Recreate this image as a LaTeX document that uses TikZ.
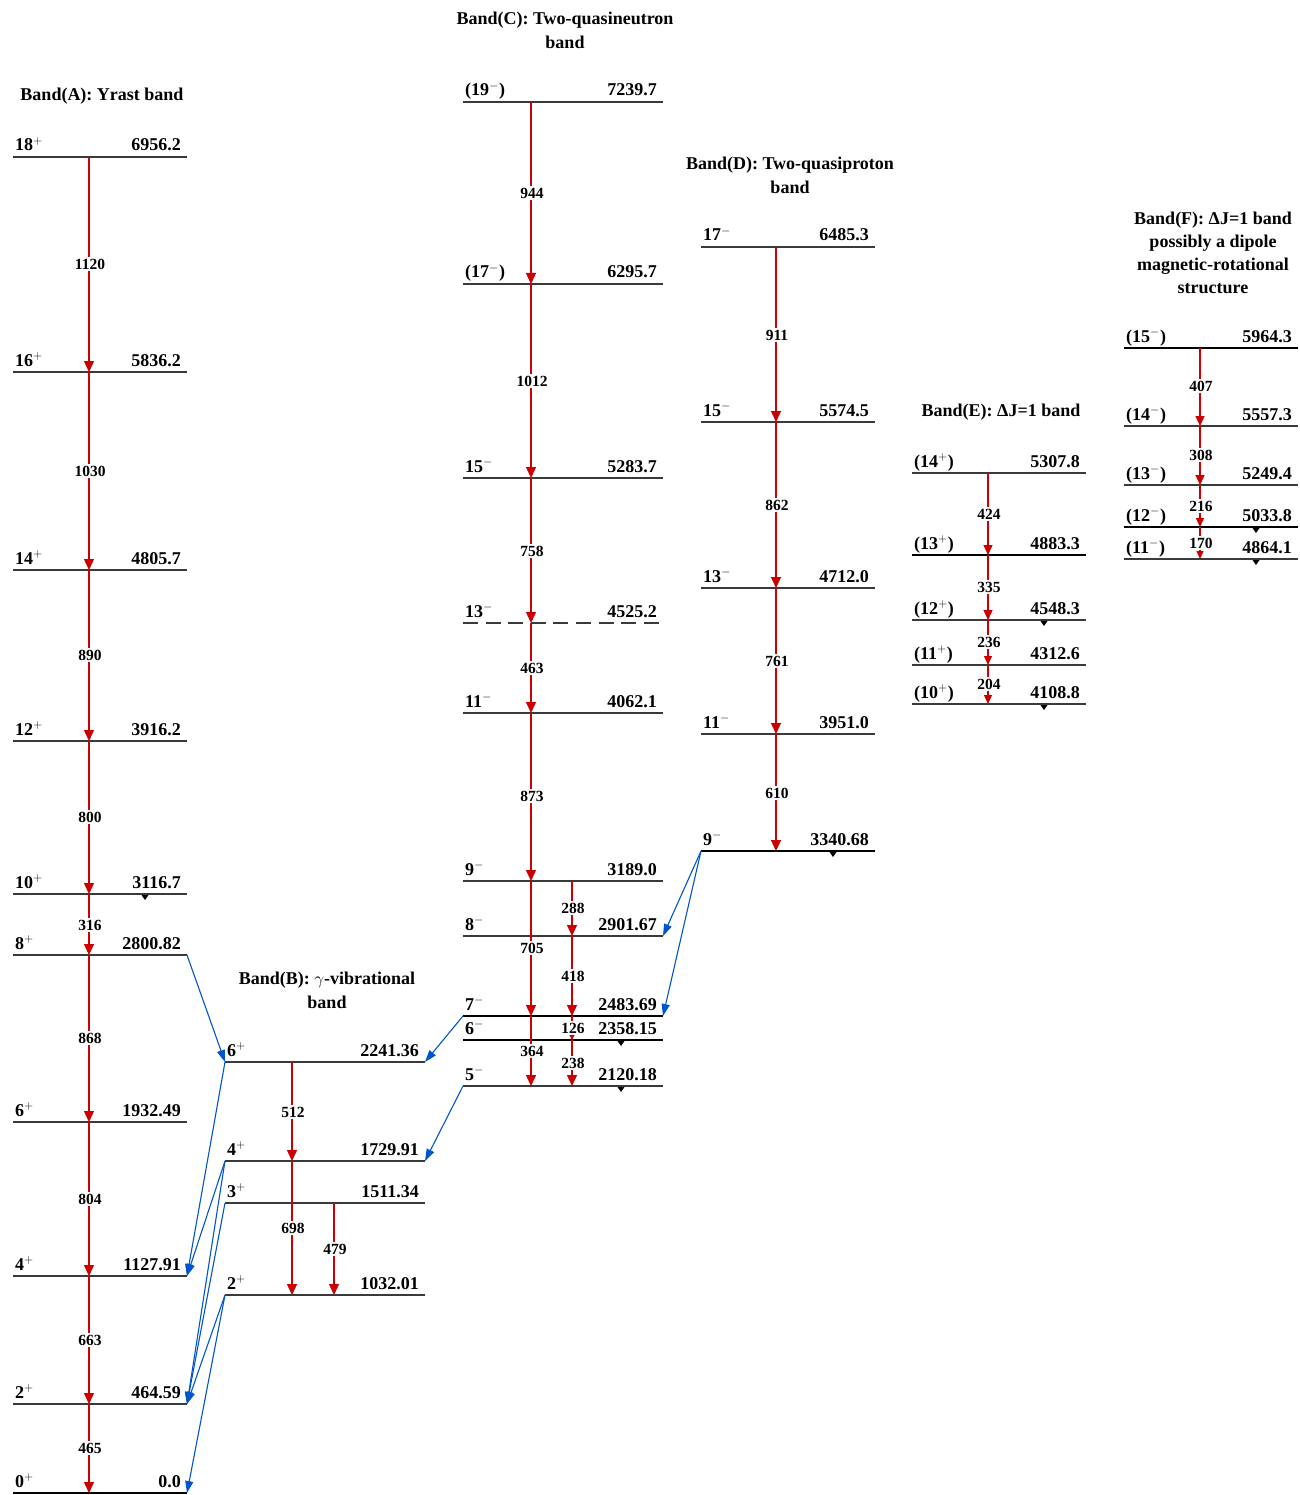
\documentclass[tikz,border=0pt]{standalone}
\usepackage{fontspec}
\setmainfont{Liberation Serif}
\usetikzlibrary{arrows.meta,calc}
\definecolor{tred}{HTML}{CC0000}
\definecolor{tblue}{HTML}{0055CC}
\definecolor{lvlgray}{HTML}{3A3A3A}
\newcommand{\mylvl}[7][]{%
 \coordinate (#2L) at (#3,#5);
 \coordinate (#2R) at (#4,#5);
 \draw[lvlline,#1] (#2L) -- (#2R);
 \node[spinlab] (#2s) at ([shift={(2pt,6pt)}]#2L) {#6};
 \node[enlab] (#2e) at ([shift={(-6pt,6pt)}]#2R) {#7};
}
\newcommand{\mytr}[6]{%
 \draw[trline,-{Triangle[#6]}] (#1,0 |- #2L) -- (#1,0 |- #3L);
 \node[tlab] (tl#5) at (#1+1,#4) {#5};
}
\newcommand{\mymk}[2]{\fill[black] (#1,0 |- #2L) ++(-3.5,1) -- ++(7,0) -- ++(-3.5,5) -- cycle;}
\begin{document}
\begin{tikzpicture}[x=1pt,y=-1pt,
 lvlline/.style={draw=lvlgray, line width=1.3pt},
 spinlab/.style={font=\fontsize{18}{20}\selectfont\bfseries, inner sep=0pt, anchor=base west},
 enlab/.style={font=\fontsize{18}{20}\selectfont\bfseries, inner sep=0pt, anchor=base east},
 trline/.style={draw=tred, line width=1.25pt},
 tlab/.style={font=\fontsize{15.5}{17}\selectfont\bfseries, fill=white, inner sep=1.5pt},
 xtr/.style={draw=tblue, line width=1.1pt, -{Triangle[length=12pt,width=8pt]}},
 title/.style={font=\fontsize{18}{24}\selectfont\bfseries, align=center},
]
\useasboundingbox (0,0) rectangle (1299,1495);
\fill[white] (0,0) rectangle (1299,1495);

% Titles
\node[title] (tA) at (102,96) {Band(A): Yrast band};
\node[title] (tB) at (327,990.5) {Band(B): $\gamma$-vibrational\\band};
\node[title] (tC) at (565,30) {Band(C): Two-quasineutron\\band};
\node[title] (tD) at (790,175) {Band(D): Two-quasiproton\\band};
\node[title] (tE) at (1001,412) {Band(E): ΔJ=1 band};
\node[title, font=\fontsize{18}{23}\selectfont\bfseries] (tF) at (1213,252.5) {Band(F): ΔJ=1 band\\possibly a dipole\\magnetic-rotational\\structure};

% Band A
\mylvl{A18}{13}{187}{157}{18$^{+}$}{6956.2}
\mylvl{A16}{13}{187}{372}{16$^{+}$}{5836.2}
\mylvl{A14}{13}{187}{570}{14$^{+}$}{4805.7}
\mylvl{A12}{13}{187}{741}{12$^{+}$}{3916.2}
\mylvl{A10}{13}{187}{894}{10$^{+}$}{3116.7}
\mylvl{A8}{13}{187}{955}{8$^{+}$}{2800.82}
\mylvl{A6}{13}{187}{1122}{6$^{+}$}{1932.49}
\mylvl{A4}{13}{187}{1276}{4$^{+}$}{1127.91}
\mylvl{A2}{13}{187}{1404}{2$^{+}$}{464.59}
\mylvl[draw=black,line width=2.4pt]{A0}{13}{187}{1493}{0$^{+}$}{0.0}

% Band B
\mylvl{B6}{225}{425}{1062}{6$^{+}$}{2241.36}
\mylvl{B4}{225}{425}{1161}{4$^{+}$}{1729.91}
\mylvl{B3}{225}{425}{1203}{3$^{+}$}{1511.34}
\mylvl{B2}{225}{425}{1295}{2$^{+}$}{1032.01}

% Band C
\mylvl{C19}{463}{663}{102}{(19$^{-}$)}{7239.7}
\mylvl{C17}{463}{663}{284}{(17$^{-}$)}{6295.7}
\mylvl{C15}{463}{663}{478}{15$^{-}$}{5283.7}
\mylvl[dash pattern=on 15pt off 7.6pt]{C13}{463}{663}{623}{13$^{-}$}{4525.2}
\mylvl{C11}{463}{663}{713}{11$^{-}$}{4062.1}
\mylvl{C9}{463}{663}{881}{9$^{-}$}{3189.0}
\mylvl{C8}{463}{663}{936}{8$^{-}$}{2901.67}
\mylvl[draw=black]{C7}{463}{663}{1016}{7$^{-}$}{2483.69}
\mylvl[draw=black]{C6}{463}{663}{1040}{6$^{-}$}{2358.15}
\mylvl{C5}{463}{663}{1086}{5$^{-}$}{2120.18}

% Band D
\mylvl{D17}{701}{875}{247}{17$^{-}$}{6485.3}
\mylvl{D15}{701}{875}{422}{15$^{-}$}{5574.5}
\mylvl{D13}{701}{875}{588}{13$^{-}$}{4712.0}
\mylvl{D11}{701}{875}{734}{11$^{-}$}{3951.0}
\mylvl[draw=black]{D9}{701}{875}{851}{9$^{-}$}{3340.68}

% Band E
\mylvl{E14}{912}{1086}{473}{(14$^{+}$)}{5307.8}
\mylvl[draw=black]{E13}{912}{1086}{555}{(13$^{+}$)}{4883.3}
\mylvl{E12}{912}{1086}{620}{(12$^{+}$)}{4548.3}
\mylvl{E11}{912}{1086}{665}{(11$^{+}$)}{4312.6}
\mylvl{E10}{912}{1086}{704}{(10$^{+}$)}{4108.8}

% Band F
\mylvl[draw=black]{F15}{1124}{1298}{348}{(15$^{-}$)}{5964.3}
\mylvl{F14}{1124}{1298}{426}{(14$^{-}$)}{5557.3}
\mylvl{F13}{1124}{1298}{485}{(13$^{-}$)}{5249.4}
\mylvl[draw=black]{F12}{1124}{1298}{527}{(12$^{-}$)}{5033.8}
\mylvl{F11}{1124}{1298}{559}{(11$^{-}$)}{4864.1}

% Markers
\mymk{145}{A10}
\mymk{621}{C6}
\mymk{621}{C5}
\mymk{833}{D9}
\mymk{1044}{E12}
\mymk{1044}{E10}
\mymk{1256}{F12}
\mymk{1256}{F11}

% Transitions band A
\mytr{89}{A18}{A16}{264}{1120}{length=11pt,width=10pt}
\mytr{89}{A16}{A14}{471}{1030}{length=11pt,width=10pt}
\mytr{89}{A14}{A12}{655}{890}{length=11pt,width=10pt}
\mytr{89}{A12}{A10}{817}{800}{length=11pt,width=10pt}
\mytr{89}{A10}{A8}{925}{316}{length=11pt,width=10pt}
\mytr{89}{A8}{A6}{1038}{868}{length=11pt,width=10pt}
\mytr{89}{A6}{A4}{1199}{804}{length=11pt,width=10pt}
\mytr{89}{A4}{A2}{1340}{663}{length=11pt,width=10pt}
\mytr{89}{A2}{A0}{1448}{465}{length=11pt,width=10pt}

% Transitions band B
\mytr{292}{B6}{B4}{1112}{512}{length=11pt,width=10pt}
\mytr{292}{B4}{B2}{1228}{698}{length=11pt,width=10pt}
\mytr{334}{B3}{B2}{1249}{479}{length=11pt,width=10pt}

% Transitions band C
\mytr{531}{C19}{C17}{193}{944}{length=11pt,width=10pt}
\mytr{531}{C17}{C15}{381}{1012}{length=11pt,width=10pt}
\mytr{531}{C15}{C13}{551}{758}{length=11pt,width=10pt}
\mytr{531}{C13}{C11}{668}{463}{length=11pt,width=10pt}
\mytr{531}{C11}{C9}{796}{873}{length=11pt,width=10pt}
\mytr{531}{C9}{C7}{948}{705}{length=11pt,width=10pt}
\mytr{531}{C7}{C5}{1051}{364}{length=11pt,width=10pt}
\mytr{572}{C9}{C8}{908}{288}{length=11pt,width=10pt}
\mytr{572}{C8}{C7}{976}{418}{length=11pt,width=10pt}
\mytr{572}{C7}{C6}{1028}{126}{length=6pt,width=6pt}
\mytr{572}{C6}{C5}{1063}{238}{length=11pt,width=10pt}

% Transitions band D
\mytr{776}{D17}{D15}{335}{911}{length=11pt,width=10pt}
\mytr{776}{D15}{D13}{505}{862}{length=11pt,width=10pt}
\mytr{776}{D13}{D11}{661}{761}{length=11pt,width=10pt}
\mytr{776}{D11}{D9}{793}{610}{length=11pt,width=10pt}

% Transitions band E
\mytr{988}{E14}{E13}{514}{424}{length=10pt,width=9pt}
\mytr{988}{E13}{E12}{587}{335}{length=10pt,width=9pt}
\mytr{988}{E12}{E11}{642}{236}{length=9pt,width=8pt}
\mytr{988}{E11}{E10}{684}{204}{length=9pt,width=8pt}

% Transitions band F
\mytr{1200}{F15}{F14}{386}{407}{length=10pt,width=9pt}
\mytr{1200}{F14}{F13}{455}{308}{length=10pt,width=9pt}
\mytr{1200}{F13}{F12}{506}{216}{length=9pt,width=8pt}
\mytr{1200}{F12}{F11}{543}{170}{length=8pt,width=7pt}

% Inter-band transitions
\draw[xtr] (A8R) -- (B6L);
\draw[xtr] (B6L) -- (A4R);
\draw[xtr] (B4L) -- (A4R);
\draw[xtr] (B4L) -- (A2R);
\draw[xtr] (B3L) -- (A2R);
\draw[xtr] (B2L) -- (A2R);
\draw[xtr] (B2L) -- (A0R);
\draw[xtr] (C7L) -- (B6R);
\draw[xtr] (C5L) -- (B4R);
\draw[xtr] (D9L) -- (C8R);
\draw[xtr] (D9L) -- (C7R);
\end{tikzpicture}
\end{document}
